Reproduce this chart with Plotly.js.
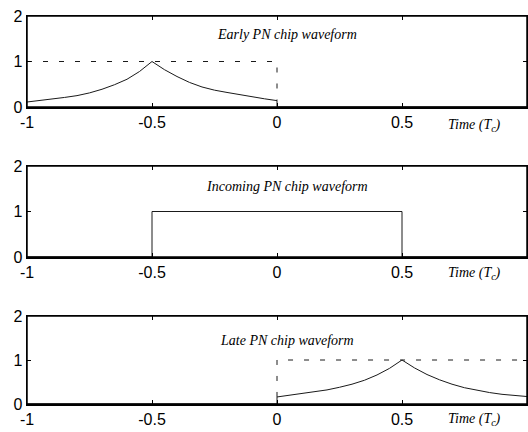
<!DOCTYPE html>
<html>
<head>
<meta charset="utf-8">
<script src="https://cdn.plot.ly/plotly-3.0.1.min.js"></script>
<style>
  html, body { margin: 0; padding: 0; background: #fff; }
  #chart { width: 528px; height: 432px; }
</style>
</head>
<body>
<div id="chart"></div>
<script>
// Time axis in chip periods (Tc)
const tickVals = [-1, -0.5, 0, 0.5, 1];
const tickText = ['-1', '-0.5', '0', '0.5', '1'];
const levelVals = [0, 1, 2];

// Early replica correlation: peak at -0.5 Tc, drops to zero at 0
const earlyX = [-1, -0.95, -0.9, -0.85, -0.8, -0.75, -0.7, -0.65, -0.6, -0.55, -0.5,
                -0.45, -0.4, -0.35, -0.3, -0.25, -0.2, -0.15, -0.1, -0.05, 0, 0, 1];
const earlyY = [0.11, 0.14, 0.17, 0.21, 0.25, 0.31, 0.39, 0.49, 0.61, 0.78, 1.0,
                0.82, 0.67, 0.54, 0.44, 0.37, 0.32, 0.27, 0.22, 0.18, 0.14, 0, 0];
// Early chip envelope (dashed)
const earlyEnvX = [-1, 0, 0];
const earlyEnvY = [1, 1, 0.14];

// Incoming chip: rectangular pulse
const incomingX = [-1, -0.5, -0.5, 0.5, 0.5, 1];
const incomingY = [0, 0, 1, 1, 0, 0];

// Late replica correlation: zero before 0, peak at +0.5 Tc
const lateX = [-1, 0, 0, 0.05, 0.1, 0.15, 0.2, 0.25, 0.3, 0.35, 0.4, 0.45, 0.5,
               0.55, 0.6, 0.65, 0.7, 0.75, 0.8, 0.85, 0.9, 0.95, 1];
const lateY = [0, 0, 0.16, 0.20, 0.24, 0.28, 0.32, 0.38, 0.45, 0.54, 0.66, 0.81, 1.0,
               0.82, 0.67, 0.55, 0.45, 0.37, 0.31, 0.26, 0.22, 0.19, 0.17];
// Late chip envelope (dashed)
const lateEnvX = [0, 0, 1];
const lateEnvY = [0.16, 1, 1];

const panelTitles = ['Early PN chip waveform', 'Incoming PN chip waveform', 'Late PN chip waveform'];
const timeLabel = 'Time (<i>T</i><sub>c</sub>)';

const ink = '#1a1a1a';
const solid = { color: ink, width: 1 };
const dashed = { color: ink, width: 1, dash: '5px,11px' };

const traces = [
  { x: earlyX, y: earlyY, xaxis: 'x', yaxis: 'y', mode: 'lines', line: solid },
  { x: earlyEnvX, y: earlyEnvY, xaxis: 'x', yaxis: 'y', mode: 'lines', line: dashed },
  { x: incomingX, y: incomingY, xaxis: 'x2', yaxis: 'y2', mode: 'lines', line: solid },
  { x: lateX, y: lateY, xaxis: 'x3', yaxis: 'y3', mode: 'lines', line: solid },
  { x: lateEnvX, y: lateEnvY, xaxis: 'x3', yaxis: 'y3', mode: 'lines', line: dashed }
];

const tickFont = { family: 'Liberation Sans, Arial, sans-serif', size: 16, color: '#000' };
const noteFont = { family: 'Liberation Serif, Times New Roman, serif', size: 14, color: '#000', style: 'italic' };

function xAxis(anchor) {
  return {
    anchor: anchor, range: [-1, 1], tickvals: tickVals, ticktext: tickText,
    showline: true, mirror: 'ticks', linecolor: '#000', linewidth: 1.5,
    ticks: 'inside', ticklen: 4, tickcolor: '#000',
    showgrid: false, zeroline: false, tickfont: tickFont
  };
}
function yAxis(anchor, domain) {
  return {
    anchor: anchor, domain: domain, range: [0, 2], tickvals: levelVals,
    showline: true, mirror: 'ticks', linecolor: '#000', linewidth: 1.5,
    ticks: 'inside', ticklen: 4, tickcolor: '#000',
    showgrid: false, zeroline: false, tickfont: tickFont
  };
}

const H = 432;
const dom = (top, bottom) => [1 - bottom / H, 1 - top / H];

// Panel frames
const shapes = [['x', 'y'], ['x2', 'y2'], ['x3', 'y3']].map(([xa, ya]) => ({
  type: 'rect', xref: xa + ' domain', yref: ya + ' domain', x0: 0, x1: 1, y0: 0, y1: 1,
  line: { color: '#000', width: 1.5 }, fillcolor: 'rgba(0,0,0,0)', layer: 'above'
}));

const annotations = [];
const refs = [['x', 'y domain', 0.80], ['x2', 'y2 domain', 0.77], ['x3', 'y3 domain', 0.716]];
panelTitles.forEach((t, i) => {
  annotations.push({ text: t, xref: refs[i][0], yref: refs[i][1], x: 0.04, y: refs[i][2],
                     showarrow: false, font: noteFont, xanchor: 'center', yanchor: 'middle' });
});
[['x', 'y domain', -0.198], ['x2', 'y2 domain', -0.176], ['x3', 'y3 domain', -0.18]].forEach(r => {
  annotations.push({ text: timeLabel, xref: r[0], yref: r[1], x: 0.79, y: r[2],
                     showarrow: false, font: noteFont, xanchor: 'center', yanchor: 'middle' });
});

const layout = {
  width: 528, height: 432,
  margin: { l: 27, r: 1, t: 0, b: 0 },
  paper_bgcolor: '#fff', plot_bgcolor: '#fff',
  showlegend: false,
  xaxis: xAxis('y'),
  yaxis: yAxis('x', dom(16, 107)),
  xaxis2: xAxis('y2'),
  yaxis2: yAxis('x2', dom(166, 257)),
  xaxis3: xAxis('y3'),
  yaxis3: yAxis('x3', dom(316, 404)),
  shapes: shapes,
  annotations: annotations
};

Plotly.newPlot('chart', traces, layout, { staticPlot: true, displayModeBar: false });
</script>
</body>
</html>
